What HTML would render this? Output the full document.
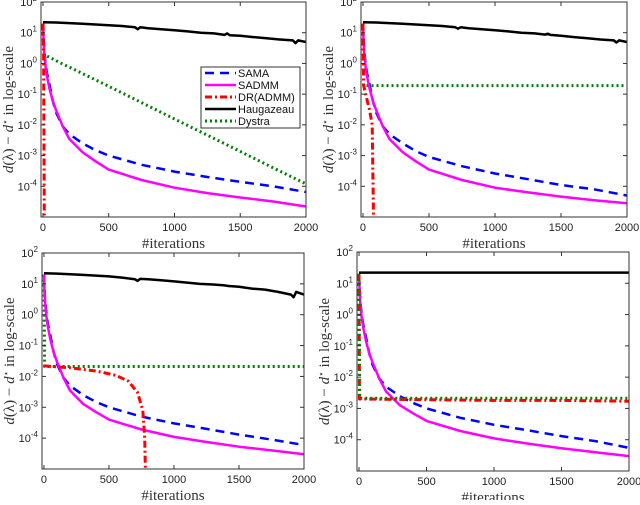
<!DOCTYPE html>
<html><head><meta charset="utf-8"><style>
body{margin:0;background:#fff;width:640px;height:500px;overflow:hidden}
</style></head><body>
<svg id="chart" width="640" height="500" xmlns="http://www.w3.org/2000/svg" style="font-family:'Liberation Sans',sans-serif"></svg>
<script>
const iters = [0,5,10,20,30,50,75,100,150,200,300,400,500,750,1000,1250,1500,1750,2000];
const hIters = [0,100,200,300,400,500,600,700,720,740,800,900,1000,1100,1200,1300,1380,1400,1420,1500,1600,1700,1800,1900,1920,1940,2000];
const xTicks = [0,500,1000,1500,2000];
const yTickExps = [2,1,0,-1,-2,-3,-4];
const seriesNames = ["SAMA","SADMM","DR(ADMM)","Haugazeau","Dystra"];
// panel 1 (top-left)
const p1Sama = [20,6,2.5,1,0.5,0.2,0.06,0.025,0.009,0.005,0.0025,0.0015,0.001,5e-4,3e-4,2e-4,1.4e-4,1e-4,6.5e-5];
const p1Sadmm = [20,5,2,0.8,0.4,0.15,0.06,0.03,0.009,0.0035,0.0013,6.5e-4,3.5e-4,1.6e-4,9e-5,6e-5,4.3e-5,3.2e-5,2.2e-5];
const p1DrIters = [0,5,10];
const p1Dr = [20,2,1e-6];
const p1Haug = [22,21.5,20.5,19.5,18.5,17.5,16.5,15,13,15,14,13,12,11,10,9.5,8.5,9.5,8.3,8,7.2,6.6,6,5.6,4.6,5.6,5];
const p1Dys = [20,1.95,1.9,1.81,1.73,1.57,1.39,1.23,0.96,0.76,0.47,0.29,0.18,0.053,0.0155,0.0046,0.00137,4e-4,1.2e-4];
// panel 2 (top-right)
const p2Sama = [20,6,2.5,1,0.5,0.2,0.06,0.025,0.009,0.005,0.0025,0.0014,9e-4,4.5e-4,2.6e-4,1.7e-4,1.1e-4,8e-5,5e-5];
const p2Sadmm = [20,5,2,0.8,0.4,0.15,0.06,0.03,0.009,0.0035,0.0013,6.5e-4,3.5e-4,1.6e-4,9e-5,6.3e-5,4.6e-5,3.5e-5,2.8e-5];
const p2DrIters = [0,5,20,50,70,80];
const p2Dr = [20,0.2,0.1,0.03,0.01,1e-6];
const p2Haug = [22,21.5,20.5,19.5,18.5,17.5,16.5,15,13.5,15,14,13,12,11,10,9.5,8.7,9.3,8.5,8,7.2,6.6,6,5.6,4.8,5.6,5];
const p2Dys = [20,0.19,0.19,0.19,0.19,0.19,0.19,0.19,0.19,0.19,0.19,0.19,0.19,0.19,0.19,0.19,0.19,0.19,0.19];
// panel 3 (bottom-left)
const p3Sama = [20,6,2.5,1,0.5,0.2,0.06,0.025,0.009,0.005,0.0025,0.0015,0.001,5e-4,3e-4,2e-4,1.3e-4,9e-5,6e-5];
const p3Sadmm = [20,5,2,0.8,0.4,0.15,0.06,0.03,0.009,0.0035,0.0013,7e-4,4e-4,1.9e-4,1.1e-4,7.5e-5,5.3e-5,4e-5,3e-5];
const p3DrIters = [0,200,400,550,650,720,760,775,780];
const p3Dr = [0.022,0.019,0.015,0.011,0.007,0.003,0.0008,1e-4,1e-6];
const p3Haug = [22,21.5,20.5,19.5,18.5,17.5,16,14,12.5,14.5,14,13,12,11,10,9.5,9,8.8,8.5,8,7,6.5,5.5,4.5,3.7,5.5,4.5];
const p3Dys = [20,0.021,0.021,0.021,0.021,0.021,0.021,0.021,0.021,0.021,0.021,0.021,0.021,0.021,0.021,0.021,0.021,0.021,0.021];
// panel 4 (bottom-right)
const p4Sama = [20,6,2.5,1,0.5,0.2,0.06,0.025,0.009,0.005,0.0025,0.0015,0.001,5e-4,3e-4,2e-4,1.3e-4,9e-5,5.5e-5];
const p4Sadmm = [20,5,2,0.8,0.4,0.15,0.06,0.03,0.009,0.0035,0.0013,7e-4,4e-4,1.9e-4,1.1e-4,7.5e-5,5.3e-5,4e-5,3e-5];
const p4DrIters = [0,3,10,500,1000,1500,2000];
const p4Dr = [20,0.002,0.002,0.0019,0.0018,0.0018,0.0017];
const p4Haug = [22,22,22,22,22,22,22,22,22,22,22,22,22,22,22,22,22,22,22,22,22,22,22,22,22,22,22];
const p4Dys = [20,0.0021,0.0021,0.0021,0.0021,0.0021,0.0021,0.0021,0.0021,0.0021,0.0021,0.0021,0.0021,0.0021,0.0021,0.0021,0.0021,0.0021,0.0021];

const NS="http://www.w3.org/2000/svg";
const svg=document.getElementById('chart');
function mk(tag,attrs,parent){const e=document.createElementNS(NS,tag);for(const k in attrs)e.setAttribute(k,attrs[k]);(parent||svg).appendChild(e);return e;}
const styles={
 SAMA:{stroke:"#0000ff",w:2.5,dash:"9,6"},
 SADMM:{stroke:"#ff00ff",w:2.5,dash:""},
 "DR(ADMM)":{stroke:"#ff0000",w:3,dash:"7,3,2,3"},
 Haugazeau:{stroke:"#000000",w:2.5,dash:""},
 Dystra:{stroke:"#008000",w:3,dash:"2,3"}
};
function panel(id,L,R,T,B,data,showLegend){
  const g=mk('g',{});
  
  
  const xs=v=>L+(v+15)/(2015)*(R-L);
  const ys=v=>{let l=Math.log10(Math.max(v,1e-5));return T+(2-l)/7*(B-T);};
  const clip=mk('clipPath',{id:'c'+id},g);mk('rect',{x:L,y:T,width:R-L,height:B-T},clip);
  const pg=mk('g',{'clip-path':'url(#c'+id+')'},g);
  data.forEach(s=>{
    const st=styles[s.name];
    const d=s.x.map((xv,i)=>(i?'L':'M')+xs(xv).toFixed(1)+','+ys(s.y[i]).toFixed(1)).join('');
    const p=mk('path',{d:d,fill:'none',stroke:st.stroke,'stroke-width':st.w,'stroke-dasharray':st.dash,'stroke-linejoin':'round'},pg);
    
    
  });
  mk('rect',{x:L,y:T,width:R-L,height:B-T,fill:'none',stroke:'#333','stroke-width':1},g);
  xTicks.forEach(t=>{const x=xs(t);
    mk('line',{x1:x,x2:x,y1:B,y2:B-4,stroke:'#333'},g);mk('line',{x1:x,x2:x,y1:T,y2:T+4,stroke:'#333'},g);
    const tx=mk('text',{x:x,y:B+14,'font-size':11,'text-anchor':'middle',fill:'#222'},g);tx.textContent=t;
    });
  yTickExps.forEach(e=>{const y=ys(Math.pow(10,e));
    mk('line',{x1:L,x2:L+4,y1:y,y2:y,stroke:'#333'},g);mk('line',{x1:R,x2:R-4,y1:y,y2:y,stroke:'#333'},g);
    const tx=mk('text',{x:L-4,y:y+4,'font-size':11,'text-anchor':'end',fill:'#222'},g);
    
    tx.appendChild(document.createTextNode('10'));
    const sp=mk('tspan',{dy:-5,'font-size':8},tx);sp.textContent=e;});
  const xl=mk('text',{x:(L+R)/2,y:B+31,'font-size':15,'text-anchor':'middle',fill:'#333',style:"font-family:'Liberation Serif',serif"},g);
  xl.textContent='#iterations';
  const yl=mk('text',{x:0,y:0,'font-size':15,'text-anchor':'middle',fill:'#333',style:"font-family:'Liberation Serif',serif",transform:`translate(${L-28},${(T+B)/2}) rotate(-90)`},g);
  yl.innerHTML='<tspan font-style="italic">d</tspan>(λ) − <tspan font-style="italic">d</tspan><tspan dy="-5" font-size="9">⋆</tspan><tspan dy="5"> in log-scale</tspan>';
  
  if(showLegend){
    const lg=mk('g',{},g);
    mk('rect',{x:201,y:67,width:99,height:61,fill:'#fff',stroke:'#333'},lg);
    seriesNames.forEach((n,i)=>{const y=73+i*12;const st=styles[n];
      const en=mk('g',{},lg);
      mk('line',{x1:205,x2:236,y1:y,y2:y,stroke:st.stroke,'stroke-width':st.w,'stroke-dasharray':st.dash},en);
      const t=mk('text',{x:238,y:y+4,'font-size':11,fill:'#111'},en);t.textContent=n;});
  }
}
function S(name,x,y){return {name,x,y};}
panel('panel-top-left',41,306,2,217,[S('Dystra',iters,p1Dys),S('SAMA',iters,p1Sama),S('SADMM',iters,p1Sadmm),S('Haugazeau',hIters,p1Haug),S('DR(ADMM)',p1DrIters,p1Dr)],true);
panel('panel-top-right',361,627,2,217,[S('Dystra',iters,p2Dys),S('SAMA',iters,p2Sama),S('SADMM',iters,p2Sadmm),S('Haugazeau',hIters,p2Haug),S('DR(ADMM)',p2DrIters,p2Dr)],false);
panel('panel-bottom-left',42,304,253,469,[S('Dystra',iters,p3Dys),S('SAMA',iters,p3Sama),S('SADMM',iters,p3Sadmm),S('Haugazeau',hIters,p3Haug),S('DR(ADMM)',p3DrIters,p3Dr)],false);
panel('panel-bottom-right',357,629,252,471,[S('SAMA',iters,p4Sama),S('SADMM',iters,p4Sadmm),S('DR(ADMM)',p4DrIters,p4Dr),S('Dystra',iters,p4Dys),S('Haugazeau',hIters,p4Haug)],false);
</script>
</body></html>
